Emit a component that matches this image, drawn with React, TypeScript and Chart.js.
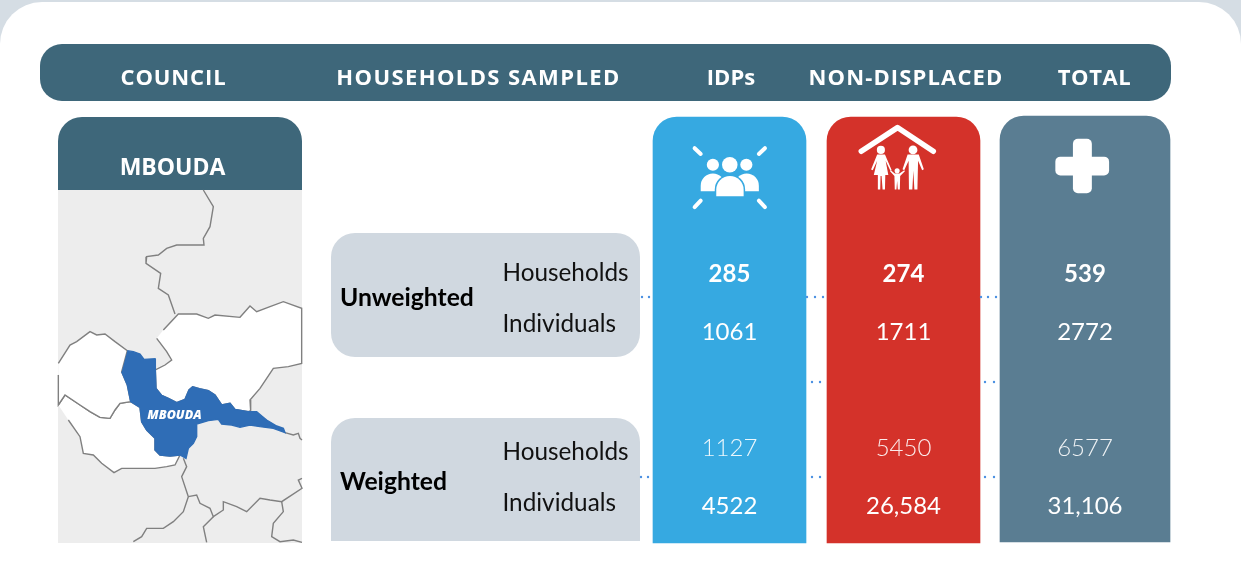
import React, { useEffect, useRef } from "react";
import { Chart, registerables } from "chart.js";

Chart.register(...registerables);

// ---- content ----
const headerLabels = ["COUNCIL", "HOUSEHOLDS SAMPLED", "IDPs", "NON-DISPLACED", "TOTAL"];
const councilName = "MBOUDA";
const groupLabels = ["Unweighted", "Weighted"];
const rowLabels = ["Households", "Individuals"];
const unweightedHouseholds = ["285", "274", "539"];
const unweightedIndividuals = ["1061", "1711", "2772"];
const weightedHouseholds = ["1127", "5450", "6577"];
const weightedIndividuals = ["4522", "26,584", "31,106"];

// ---- column bars ----
const columnCentres = [729.5, 903.5, 1085];
const columnTops = [117, 117, 116];
const columnBottoms = [543, 543, 542];
const columnWidths = [153, 153, 170];
const columnColours = ["#36a9e1", "#d4322a", "#5a7d92"];

// ---- dotted connectors ----
const connectorX = [642, 649, 807, 815, 823, 812, 820, 981, 988, 996, 985, 994, 641, 648, 812, 820, 985, 994];
const connectorY = [297, 297, 297, 297, 297, 382, 382, 297, 297, 297, 382, 382, 477, 477, 477, 477, 477, 477];

const mbouda: number[][] = [[262,92],[280,95],[300,102],[312,118],[345,116],[346,150],[348,205],[365,226],[385,235],[410,248],[435,238],[447,210],[458,200],[478,206],[505,212],[525,225],[545,255],[570,250],[585,268],[625,275],[650,275],[668,290],[680,300],[710,318],[730,325],[735,338],[700,325],[660,320],[630,315],[600,322],[575,315],[545,312],[535,298],[505,302],[470,312],[470,350],[460,370],[445,385],[438,415],[420,405],[390,408],[360,405],[345,390],[345,355],[320,330],[305,305],[300,262],[272,245],[262,195],[245,155]];
const northWest: number[][] = [[55,130],[90,75],[110,65],[150,35],[170,45],[195,42],[225,65],[262,92],[245,155],[262,195],[272,245],[240,250],[225,270],[210,295],[180,292],[150,275],[120,255],[75,225],[55,255],[55,165]];
const southWest: number[][] = [[55,255],[75,225],[120,255],[150,275],[180,292],[210,295],[225,270],[240,250],[272,245],[300,262],[305,305],[320,330],[345,355],[345,390],[360,405],[390,408],[420,405],[405,435],[380,440],[345,445],[280,445],[245,445],[222,458],[185,430],[160,405],[130,400],[120,350],[85,300]];
const north: number[][] = [[370,30],[415,-18],[470,-18],[505,-5],[525,-15],[600,-8],[630,-42],[650,-25],[690,-40],[730,-55],[785,-35],[785,130],[745,140],[700,145],[680,175],[660,205],[630,240],[632,272],[625,275],[585,268],[570,250],[545,255],[525,225],[505,212],[478,206],[458,200],[447,210],[435,238],[410,248],[385,235],[365,226],[348,205],[346,150],[375,135],[395,120],[380,95],[350,55]];
const borderLines: number[][][] = [
  [[490,-390],[520,-340],[510,-280],[490,-245],[492,-225],[410,-225],[380,-215],[355,-195],[320,-190],[318,-170],[362,-140],[355,-95],[385,-75],[405,-18]],
  [[55,165],[75,190],[75,225]],
  [[430,415],[440,440],[425,470],[445,530],[430,575],[400,605],[370,625],[320,625],[305,650],[280,665]],
  [[445,530],[470,525],[480,550],[510,565],[520,590],[550,570],[550,545],[590,560],[620,575],[660,535],[690,540],[725,545],[786,505],[775,480],[786,475]],
  [[520,590],[490,620],[500,667]],
  [[725,545],[730,575],[700,610],[695,650],[720,665],[760,660],[786,667]],
  [[735,338],[760,345],[775,340],[780,355],[786,360]],
];
const toMap = (p: number[][]) => p.map(([x, y]) => ({ x: 40 + x / 3, y: 320 + y / 3 }));

const rr = (c: CanvasRenderingContext2D, x: number, y: number, w: number, h: number, r: any, fill: string) => {
  c.beginPath();
  c.roundRect(x, y, w, h, r);
  c.fillStyle = fill;
  c.fill();
};

const text = (c: CanvasRenderingContext2D, s: string, x: number, y: number, font: string, fill: string, align: CanvasTextAlign = "center", spacing = "0px") => {
  c.font = font;
  c.fillStyle = fill;
  c.textAlign = align;
  c.textBaseline = "middle";
  (c as any).letterSpacing = spacing;
  c.fillText(s, x, y);
  (c as any).letterSpacing = "0px";
};

const Z = (x: number, y: number): [number, number] => [650 + x / 2.958, 110 + y / 2.958];
const poly = (c: CanvasRenderingContext2D, pts: number[][]) => {
  c.beginPath();
  pts.forEach(([x, y], i) => {
    const [a, b] = Z(x, y);
    if (i) c.lineTo(a, b);
    else c.moveTo(a, b);
  });
  c.closePath();
  c.fill();
};
const disc = (c: CanvasRenderingContext2D, x: number, y: number, r: number) => {
  const [a, b] = Z(x, y);
  c.beginPath();
  c.arc(a, b, r / 2.958, 0, Math.PI * 2);
  c.fill();
};
const seg = (c: CanvasRenderingContext2D, pts: number[][], w: number) => {
  c.beginPath();
  pts.forEach(([x, y], i) => {
    const [a, b] = Z(x, y);
    if (i) c.lineTo(a, b);
    else c.moveTo(a, b);
  });
  c.lineWidth = w;
  c.lineCap = "round";
  c.lineJoin = "round";
  c.strokeStyle = "#fff";
  c.stroke();
};

const drawIcons = (c: CanvasRenderingContext2D) => {
  c.save();
  c.fillStyle = "#fff";
  // IDPs
  [[[132,113],[150,130]],[[340,113],[322,130]],[[132,287],[150,268]],[[340,287],[322,268]]].forEach((s) => seg(c, s, 4));
  disc(c, 186, 162, 18);
  disc(c, 285, 162, 18);
  disc(c, 236, 162, 23);
  const dome = (x0: number, x1: number, top: number, bottom: number) => {
    const [a, t] = Z(x0, top);
    const [b, bt] = Z(x1, bottom);
    const r = (b - a) / 2;
    c.beginPath();
    c.moveTo(a, bt);
    c.lineTo(a, t + r);
    c.arc(a + r, t + r, r, Math.PI, 0);
    c.lineTo(b, bt);
    c.closePath();
  };
  dome(150, 222, 188, 240);
  c.fill();
  dome(250, 322, 188, 240);
  c.fill();
  dome(196, 277, 195, 255);
  c.lineWidth = 3;
  c.strokeStyle = "#36a9e1";
  c.stroke();
  c.fill();
  // NON-DISPLACED
  c.fillStyle = "#fff";
  seg(c, [[625,122],[732,52],[838,122]], 5.5);
  disc(c, 683, 118, 12);
  disc(c, 778, 118, 13);
  disc(c, 731, 180, 7.5);
  poly(c, [[672,132],[695,132],[715,178],[711,180],[697,150],[705,192],[696,192],[695,235],[688,235],[685,195],[682,195],[681,235],[674,235],[674,192],[662,192],[672,150],[659,178],[654,176]]);
  poly(c, [[762,132],[795,132],[810,175],[805,178],[793,150],[791,235],[782,235],[779,180],[776,235],[766,235],[765,150],[752,178],[747,175]]);
  poly(c, [[724,188],[738,188],[752,178],[754,181],[740,195],[739,235],[733,235],[731,210],[729,235],[724,235],[723,195],[710,181],[712,178]]);
  // TOTAL
  const [hx, hy] = Z(1199, 138);
  rr(c, hx, hy, 159 / 2.958, 56 / 2.958, 5, "#fff");
  const [vx, vy] = Z(1251, 85);
  rr(c, vx, vy, 56 / 2.958, 161 / 2.958, 5, "#fff");
  c.restore();
};

const panelPlugin = {
  id: "panels",
  beforeDatasetsDraw(chart: any) {
    const c: CanvasRenderingContext2D = chart.ctx;
    c.save();
    c.fillStyle = "#d5dde4";
    c.fillRect(0, 0, 1241, 574);
    rr(c, 0, 2, 1241, 640, 42, "#fff");
    rr(c, 40, 44, 1131, 57, 22, "#3e677a");
    rr(c, 58, 190, 244, 353, 0, "#ededed");
    rr(c, 58, 117, 244, 73, [24, 24, 0, 0], "#3e677a");
    rr(c, 331, 233, 309, 124, 24, "#d0d8e0");
    rr(c, 331, 418, 309, 123, [24, 24, 0, 0], "#d0d8e0");
    c.restore();
  },
};

const textPlugin = {
  id: "labels",
  afterDatasetsDraw(chart: any) {
    const c: CanvasRenderingContext2D = chart.ctx;
    const x = chart.scales.x;
    c.save();
    const headFont = "700 22px 'Open Sans'";
    const headX = [173.5, 478.5, 731, 906, 1094.5];
    const headSpacing = ["0.9px", "1.4px", "0.1px", "1.15px", "0.6px"];
    headerLabels.forEach((s, i) => text(c, s, headX[i], 79, headFont, "#fff", "center", headSpacing[i]));
    text(c, councilName, 172.5, 168, "700 23px 'Open Sans'", "#fff");
    text(c, councilName, 174.5, 415, "italic 800 12.5px 'Open Sans'", "#fff");
    text(c, groupLabels[0], 340, 298.5, "700 24.7px Lato", "#000", "left");
    text(c, groupLabels[1], 340, 482.5, "700 24.7px Lato", "#000", "left");
    [[rowLabels[0], 273], [rowLabels[1], 324], [rowLabels[0], 452], [rowLabels[1], 503]].forEach(([s, y]) =>
      text(c, s as string, 502.5, y as number, "400 24.3px Lato", "#111", "left"),
    );
    columnCentres.forEach((cx, i) => {
      const px = x.getPixelForValue(cx);
      text(c, unweightedHouseholds[i], px, 274.5, "700 24px Lato", "#fff");
      text(c, unweightedIndividuals[i], px, 332, "400 24px Lato", "#fff");
      text(c, weightedHouseholds[i], px, 448, "300 24px Lato", "rgba(255,255,255,0.9)");
      text(c, weightedIndividuals[i], px, 506.5, "400 24px Lato", "#fff");
    });
    drawIcons(c);
    c.restore();
  },
};

export default function App() {
  const ref = useRef<HTMLCanvasElement>(null);
  useEffect(() => {
    if (!ref.current) return;
    const mapLine = { type: "line", pointRadius: 0, borderWidth: 1.4, borderColor: "#808080", tension: 0 };
    const chart = new Chart(ref.current, {
      type: "bar",
      data: {
        datasets: [
          {
            type: "scatter",
            order: 0,
            data: connectorX.map((v, i) => ({ x: v, y: connectorY[i] })),
            pointRadius: 1.2,
            pointBackgroundColor: "#4a90e2",
            pointBorderWidth: 0,
            showLine: false,
          },
          ...columnCentres.map((cx, i) => ({
            type: "bar",
            order: 1,
            data: [{ x: cx, y: [columnTops[i], columnBottoms[i]] }],
            backgroundColor: columnColours[i],
            barThickness: columnWidths[i],
            grouped: false,
            borderSkipped: false,
            borderRadius: { topLeft: 24, topRight: 24, bottomLeft: 0, bottomRight: 0 },
          })),
          { ...mapLine, order: 2, data: toMap(mbouda), fill: "shape", backgroundColor: "#2f6db6", borderColor: "#2f6db6" },
          ...[northWest, southWest, north].map((p, i) => ({
            ...mapLine,
            order: 3 + i,
            data: toMap(p),
            fill: "shape",
            backgroundColor: "#ffffff",
          })),
          ...borderLines.map((p) => ({ ...mapLine, order: 6, data: toMap(p), fill: false })),
        ] as any,
      },
      options: {
        animation: false,
        responsive: false,
        devicePixelRatio: 1,
        events: [],
        layout: { padding: 0, autoPadding: false },
        plugins: { legend: { display: false }, tooltip: { enabled: false }, title: { display: false } },
        scales: {
          x: { type: "linear", min: 0, max: 1241, display: false, offset: false },
          y: { type: "linear", min: 0, max: 574, reverse: true, display: false },
        },
      } as any,
      plugins: [panelPlugin, textPlugin],
    });
    return () => chart.destroy();
  }, []);
  return (
    <div style={{ position: "absolute", left: 0, top: 0, width: 1241, height: 574 }}>
      <canvas ref={ref} width={1241} height={574} style={{ display: "block" }} />
    </div>
  );
}
